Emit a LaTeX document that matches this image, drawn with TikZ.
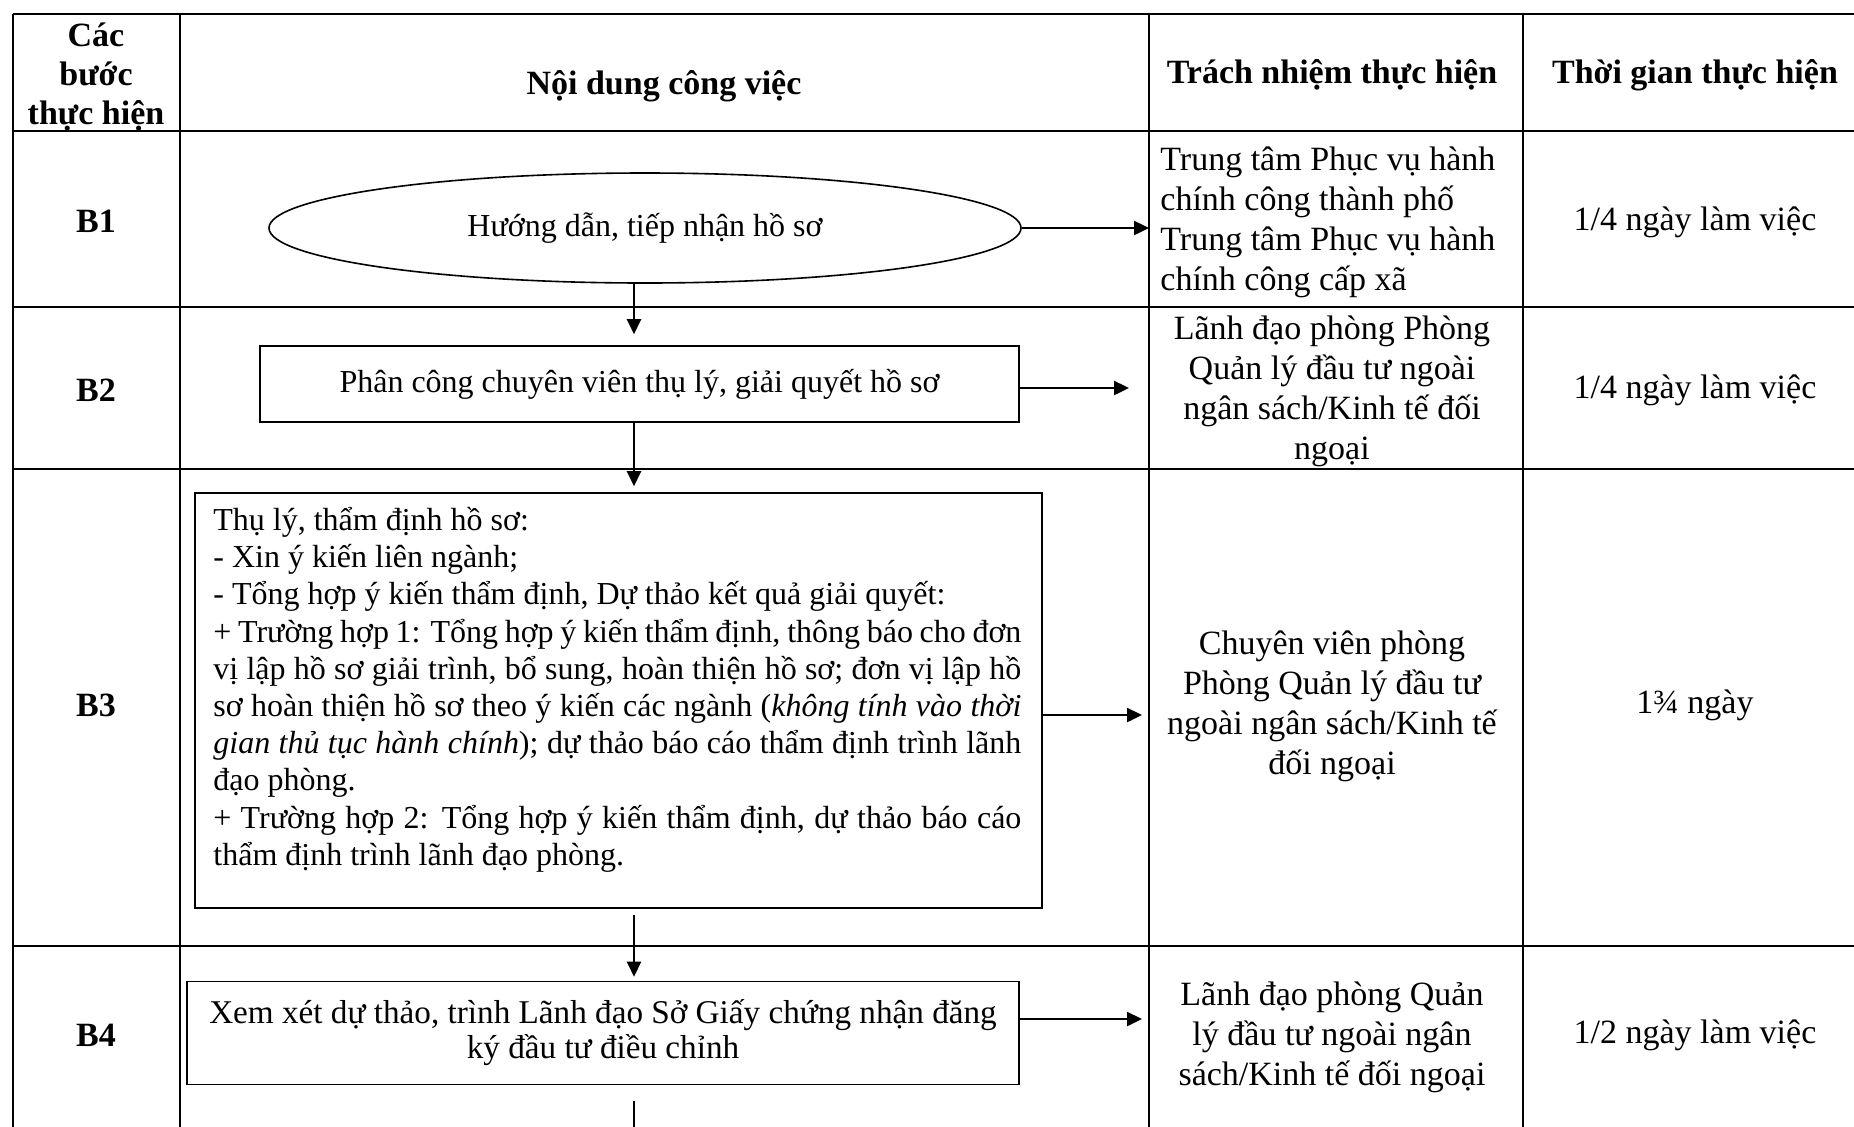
\documentclass[tikz,border=0pt]{standalone}
\usepackage{fontspec}
\setmainfont{Liberation Serif}
\usetikzlibrary{arrows.meta,shapes.geometric}
\newcommand\cellfont{\fontsize{17}{20}\selectfont}
\newcommand\headfont{\fontsize{17}{19.3}\selectfont\bfseries}
\newcommand\boxfont{\fontsize{16}{18.6}\selectfont}
\newcommand\twolinefont{\fontsize{16.6}{17.5}\selectfont}

\begin{document}
\begin{tikzpicture}[x=0.5pt,y=-0.5pt,
  rule/.style={line width=1.3pt},
  cell/.style={font=\cellfont, align=center, inner sep=0pt},
  head/.style={font=\headfont, align=center, inner sep=0pt},
  stepbox/.style={draw, line width=0.8pt, inner sep=0pt, font=\boxfont, align=center},
  flow/.style={line width=1.2pt, -{Triangle[length=7.5pt,width=7pt]}},
  link/.style={line width=1.2pt}
]
\useasboundingbox (0,0) rectangle (1854,1126);

% table grid
\coordinate (tl) at (13,14);
\coordinate (c1) at (180,14);
\coordinate (c2) at (1149,14);
\coordinate (c3) at (1523,14);
\draw[rule] (13,14) -- (1860,14);
\draw[rule] (13,131) -- (1860,131);
\draw[rule] (13,307) -- (1860,307);
\draw[rule] (13,469) -- (1860,469);
\draw[rule] (13,946) -- (1860,946);
\draw[rule] (tl) -- (13,1130);
\draw[rule] (c1) -- (180,1130);
\draw[rule] (c2) -- (1149,1130);
\draw[rule] (c3) -- (1523,1130);

% header row
\node[head] (h0) at (96,77) {Các\\bước\\thực hiện};
\node[head] (h1) at (664,86) {Nội dung công việc};
\node[head] (h2) at (1332,75) {Trách nhiệm thực hiện};
\node[head] (h3) at (1695,75) {Thời gian thực hiện};

% step labels
\node[head] (s1) at (96,221) {B1};
\node[head] (s2) at (96,390) {B2};
\node[head] (s3) at (96,705) {B3};
\node[head] (s4) at (96,1035) {B4};

% responsibility column
\node[cell, align=left, anchor=west] (r1) at (1160,222) {Trung tâm Phục vụ hành\\chính công thành phố\\Trung tâm Phục vụ hành\\chính công cấp xã};
\node[cell] (r2) at (1332,391) {Lãnh đạo phòng Phòng\\Quản lý đầu tư ngoài\\ngân sách/Kinh tế đối\\ngoại};
\node[cell] (r3) at (1332,706) {Chuyên viên phòng\\Phòng Quản lý đầu tư\\ngoài ngân sách/Kinh tế\\đối ngoại};
\node[cell] (r4) at (1332,1037) {Lãnh đạo phòng Quản\\lý đầu tư ngoài ngân\\sách/Kinh tế đối ngoại};

% time column
\node[cell] (t1) at (1695,222) {1/4 ngày làm việc};
\node[cell] (t2) at (1695,390) {1/4 ngày làm việc};
\node[cell] (t3) at (1695,705) {1¾ ngày};
\node[cell] (t4) at (1695,1035) {1/2 ngày làm việc};

% flow shapes
\node[stepbox, ellipse, minimum width=376pt, minimum height=55pt] (e1) at (645,228) {Hướng dẫn, tiếp nhận hồ sơ};
\node[stepbox, minimum width=379.5pt, minimum height=38pt] (b2) at (639.5,384) {Phân công chuyên viên thụ lý, giải quyết hồ sơ};
\node[stepbox, minimum width=423.5pt, minimum height=207.5pt] (b3) at (618.5,700.5) {};
\node[font=\boxfont, text width=404pt, align=justify, inner sep=0pt, anchor=north west] (b3t) at (213,507) {%
Thụ lý, thẩm định hồ sơ:\\
- Xin ý kiến liên ngành;\\
- Tổng hợp ý kiến thẩm định, Dự thảo kết quả giải quyết:\\
+ Trường hợp 1: Tổng hợp ý kiến thẩm định, thông báo cho đơn \linebreak
vị lập hồ sơ giải trình, bổ sung, hoàn thiện hồ sơ; đơn vị lập hồ \linebreak
sơ hoàn thiện hồ sơ theo ý kiến các ngành (\textit{không tính vào thời \linebreak
gian thủ tục hành chính}); dự thảo báo cáo thẩm định trình lãnh \linebreak
đạo phòng.\\
+ Trường hợp 2: Tổng hợp ý kiến thẩm định, dự thảo báo cáo \linebreak
thẩm định trình lãnh đạo phòng.};
\node[stepbox, font=\twolinefont, minimum width=416pt, minimum height=51.5pt] (b4) at (603,1033) {Xem xét dự thảo, trình Lãnh đạo Sở Giấy chứng nhận đăng\\ký đầu tư điều chỉnh};

% connectors
\coordinate (vx) at (634,0);
\coordinate (a1) at (1149,228);
\coordinate (a2) at (1129,388);
\coordinate (a3) at (1142,715);
\coordinate (a4) at (1142,1019);
\coordinate (tail) at (634,1130);

\draw[flow] (e1.east) -- (a1);
\draw[flow] (b2.east |- a2) -- (a2);
\draw[flow] (b3.east |- a3) -- (a3);
\draw[flow] (b4.east |- a4) -- (a4);

\draw[flow, shorten >=5.5pt] (vx |- e1.south) -- (vx |- b2.north);
\draw[flow, shorten >=3pt] (vx |- b2.south) -- (vx |- b3.north);
\draw[flow, shorten <=3pt, shorten >=2pt] (vx |- b3.south) -- (vx |- b4.north);
\draw[link, shorten <=8pt] (vx |- b4.south) -- (tail);
\end{tikzpicture}
\end{document}
